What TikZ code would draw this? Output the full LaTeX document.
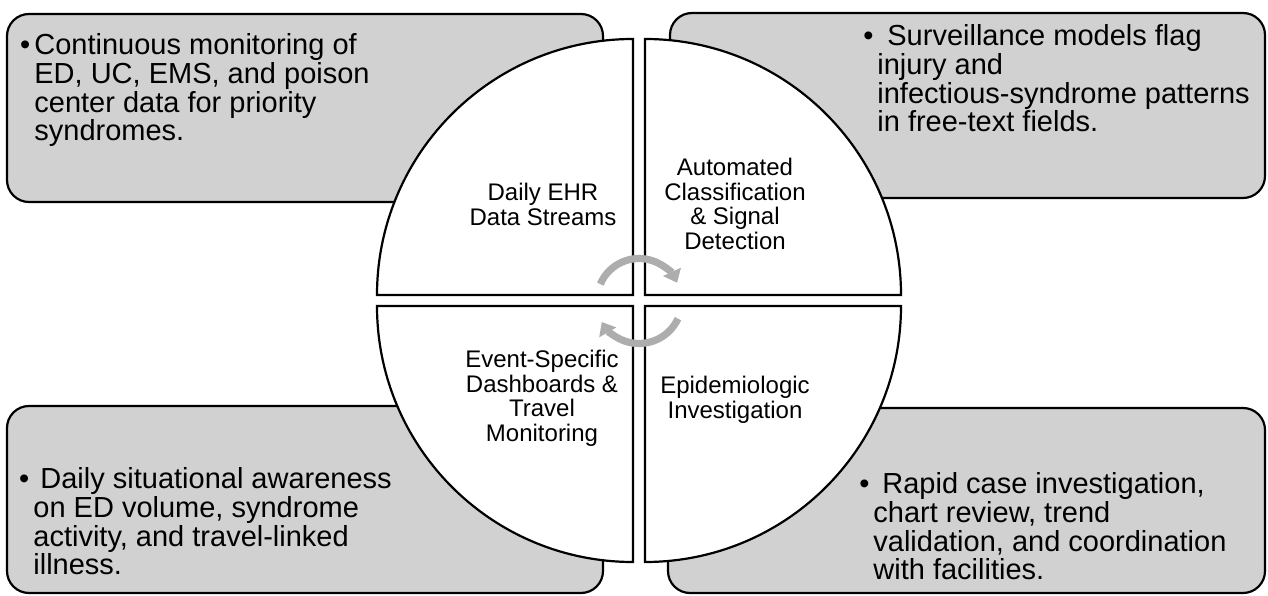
\documentclass[tikz,border=0pt]{standalone}
\usepackage{fontspec}
\setmainfont{Liberation Sans}
\usepackage{tikz}
\usetikzlibrary{arrows.meta}

\begin{document}
\begin{tikzpicture}[x=0.5pt, y=0.5pt,
			panel/.style    = {draw=black, line width=1.1pt, fill=black!18, rounded corners=11pt},
			quarter/.style  = {draw=black, line width=1.1pt, fill=white},
			cycle_arr/.style = {draw=black!32, line width=3.6pt, -{Triangle[length=6pt, width=9.5pt]}},
			paneltext/.style = {anchor=north west, inner sep=0pt, align=left, font=\fontsize{14.5pt}{14.4pt}\selectfont},
			quartext/.style  = {anchor=north, inner sep=0pt, align=center, font=\fontsize{12pt}{12.4pt}\selectfont},]

			\useasboundingbox (0,0) rectangle (1268,595);

			%% GRAY PANELS IN THE FOUR CORNERS
			\draw[panel] (7,393) rectangle (603,581);
			\draw[panel] (670,397) rectangle (1265,582);
			\draw[panel] (7,2) rectangle (603,189);
			\draw[panel] (668,2) rectangle (1265,187);

			%% CIRCLE CUT INTO FOUR QUARTERS
			\draw[quarter] (633,300) -- ++(-256,0) arc[start angle=180, end angle=90, radius=128pt] -- cycle;
			\draw[quarter] (645,300) -- ++(0,256) arc[start angle=90, end angle=0, radius=128pt] -- cycle;
			\draw[quarter] (645,289) -- ++(256,0) arc[start angle=0, end angle=-90, radius=128pt] -- cycle;
			\draw[quarter] (633,289) -- ++(0,-256) arc[start angle=270, end angle=180, radius=128pt] -- cycle;

			%% CYCLE ARROWS IN THE MIDDLE
			\coordinate (hub) at (639,294.5);
			\draw[cycle_arr] (hub) ++(157:42) arc[start angle=157, end angle=25, radius=21pt];
			\draw[cycle_arr] (hub) ++(-25:43) arc[start angle=-25, end angle=-150, radius=21.5pt];

			%% QUARTER LABELS
			\node[quartext] (q_data) at (543,412.5) {Daily EHR\\Data Streams};
			\node[quartext] (q_class) at (735,437.5) {Automated\\Classification\\\& Signal\\Detection};
			\node[quartext] (q_dash) at (542,245.5) {Event-Specific\\Dashboards \&\\Travel\\Monitoring};
			\node[quartext] (q_epi) at (735,219.5) {Epidemiologic\\Investigation};

			%% PANEL TEXTS
			\node[paneltext] (p_data) at (34,562) {\llap{•\kern2pt}Continuous monitoring of\\ED, UC, EMS, and poison\\center data for priority\\syndromes.};
			\node[paneltext] (p_class) at (877,571) {\llap{•\kern2pt}\hspace{5pt}Surveillance models flag\\injury and\\infectious-syndrome patterns\\in free-text fields.};
			\node[paneltext] (p_dash) at (33,128) {\llap{•\kern2pt}\hspace{3.5pt}Daily situational awareness\\on ED volume, syndrome\\activity, and travel-linked\\illness.};
			\node[paneltext] (p_epi) at (873,123) {\llap{•\kern2pt}\hspace{4.5pt}Rapid case investigation,\\chart review, trend\\validation, and coordination\\with facilities.};
			\end{tikzpicture}
\end{document}
